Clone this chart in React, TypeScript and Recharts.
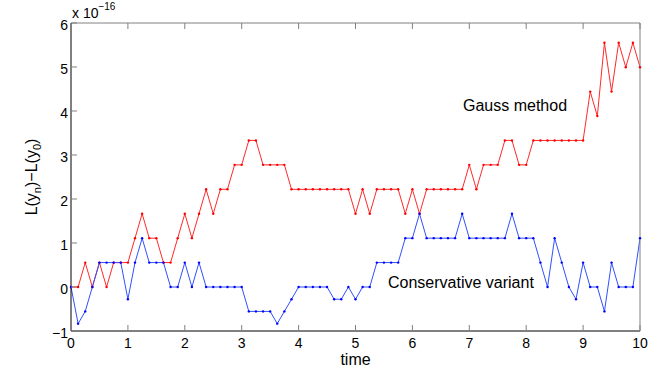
import React from "react";
import { CartesianGrid, Customized, Line, LineChart, XAxis, YAxis } from "recharts";

// time steps h = 1/8
const time = [
  0, 0.125, 0.25, 0.375, 0.5, 0.625, 0.75, 0.875,
  1, 1.125, 1.25, 1.375, 1.5, 1.625, 1.75, 1.875,
  2, 2.125, 2.25, 2.375, 2.5, 2.625, 2.75, 2.875,
  3, 3.125, 3.25, 3.375, 3.5, 3.625, 3.75, 3.875,
  4, 4.125, 4.25, 4.375, 4.5, 4.625, 4.75, 4.875,
  5, 5.125, 5.25, 5.375, 5.5, 5.625, 5.75, 5.875,
  6, 6.125, 6.25, 6.375, 6.5, 6.625, 6.75, 6.875,
  7, 7.125, 7.25, 7.375, 7.5, 7.625, 7.75, 7.875,
  8, 8.125, 8.25, 8.375, 8.5, 8.625, 8.75, 8.875,
  9, 9.125, 9.25, 9.375, 9.5, 9.625, 9.75, 9.875,
  10,
];

// L(y_n) - L(y_0), in units of 1e-16
const gauss = [
  0, 0, 0.555, 0, 0.555, 0, 0.555, 0.555,
  0.555, 1.11, 1.665, 1.11, 1.11, 0.555, 0.555, 1.11,
  1.665, 1.11, 1.665, 2.22, 1.665, 2.22, 2.22, 2.776,
  2.776, 3.331, 3.331, 2.776, 2.776, 2.776, 2.776, 2.22,
  2.22, 2.22, 2.22, 2.22, 2.22, 2.22, 2.22, 2.22,
  1.665, 2.22, 1.665, 2.22, 2.22, 2.22, 2.22, 1.665,
  2.22, 1.665, 2.22, 2.22, 2.22, 2.22, 2.22, 2.22,
  2.776, 2.22, 2.776, 2.776, 2.776, 3.331, 3.331, 2.776,
  2.776, 3.331, 3.331, 3.331, 3.331, 3.331, 3.331, 3.331,
  3.331, 4.441, 3.886, 5.551, 4.441, 5.551, 4.996, 5.551,
  4.996,
];

const conservative = [
  0, -0.833, -0.555, 0, 0.555, 0.555, 0.555, 0.555,
  -0.278, 0.555, 1.11, 0.555, 0.555, 0.555, 0, 0,
  0.555, 0, 0.555, 0, 0, 0, 0, 0,
  0, -0.555, -0.555, -0.555, -0.555, -0.833, -0.555, -0.278,
  0, 0, 0, 0, 0, -0.278, -0.278, 0,
  -0.278, 0, 0, 0.555, 0.555, 0.555, 0.555, 1.11,
  1.11, 1.665, 1.11, 1.11, 1.11, 1.11, 1.11, 1.665,
  1.11, 1.11, 1.11, 1.11, 1.11, 1.11, 1.665, 1.11,
  1.11, 1.11, 0.555, 0, 1.11, 0.555, 0, -0.278,
  0.555, 0, 0, -0.555, 0.555, 0, 0, 0,
  1.11,
];

const xTicks = [0, 1, 2, 3, 4, 5, 6, 7, 8, 9, 10];
const yTicks = [-1, 0, 1, 2, 3, 4, 5, 6];

const data = time.map((t, i) => ({ time: t, gauss: gauss[i], conservative: conservative[i] }));

const FONT = "'Liberation Sans', Arial, Helvetica, sans-serif";
const LEFT = 71;
const RIGHT = 640;
const TOP = 23;
const BOTTOM = 331;
const TICK = 6;
const TICK_COLOR = "#808080";

const fmt = (v: number) => (v < 0 ? "\u2212" + Math.abs(v) : String(v));

function LeftTick(props: any) {
  const y = props.payload.coordinate;
  return (
    <g>
      <line x1={LEFT} x2={LEFT + TICK} y1={y} y2={y} stroke={TICK_COLOR} />
      <text x={LEFT - 3} y={y + 7} textAnchor="end" fontSize={14} fontFamily={FONT} fill="#000">
        {fmt(props.payload.value)}
      </text>
    </g>
  );
}

function BottomTick(props: any) {
  const x = props.payload.coordinate;
  return (
    <g>
      <line x1={x} x2={x} y1={BOTTOM} y2={BOTTOM - TICK} stroke={TICK_COLOR} />
      <text x={x} y={348} textAnchor="middle" fontSize={14} fontFamily={FONT} fill="#000">
        {props.payload.value}
      </text>
    </g>
  );
}

function RightTick(props: any) {
  const y = props.payload.coordinate;
  return <line x1={RIGHT} x2={RIGHT - TICK} y1={y} y2={y} stroke={TICK_COLOR} />;
}

function TopTick(props: any) {
  const x = props.payload.coordinate;
  return <line x1={x} x2={x} y1={TOP} y2={TOP + TICK} stroke={TICK_COLOR} />;
}

function Labels() {
  return (
    <g fontFamily={FONT} fill="#000">
      <text x={72} y={18} fontSize={14}>
        x 10
        <tspan fontSize={10} dy={-8}>
          {"\u221216"}
        </tspan>
      </text>
      <text x={(LEFT + RIGHT) / 2} y={365} textAnchor="middle" fontSize={16}>
        time
      </text>
      <text
        x={37}
        y={(TOP + BOTTOM) / 2}
        textAnchor="middle"
        fontSize={16}
        transform={`rotate(-90, 37, ${(TOP + BOTTOM) / 2})`}
      >
        L(y
        <tspan fontSize={11} dy={4}>
          n
        </tspan>
        <tspan dy={-4}>{")\u2212L(y"}</tspan>
        <tspan fontSize={11} dy={4}>
          0
        </tspan>
        <tspan dy={-4}>)</tspan>
      </text>
      <text x={463} y={111} fontSize={16}>
        Gauss method
      </text>
      <text x={388} y={288} fontSize={16}>
        Conservative variant
      </text>
    </g>
  );
}

export default function App() {
  return (
    <div style={{ position: "absolute", left: 0, top: 0, width: 654, height: 382, background: "#fff" }}>
      <LineChart width={654} height={382} data={data} margin={{ top: 22, right: 13, bottom: 21, left: 31 }}>
        <CartesianGrid horizontal={false} vertical={false} />
        <XAxis
          dataKey="time"
          type="number"
          domain={[0, 10]}
          ticks={xTicks}
          height={30}
          axisLine={{ stroke: "#000" }}
          tickLine={false}
          tick={<BottomTick />}
          interval={0}
        />
        <XAxis
          xAxisId="top"
          orientation="top"
          dataKey="time"
          type="number"
          domain={[0, 10]}
          ticks={xTicks}
          height={1}
          axisLine={{ stroke: TICK_COLOR }}
          tickLine={false}
          tick={<TopTick />}
          interval={0}
        />
        <YAxis
          type="number"
          domain={[-1, 6]}
          ticks={yTicks}
          width={40}
          axisLine={{ stroke: "#000" }}
          tickLine={false}
          tick={<LeftTick />}
          interval={0}
        />
        <YAxis
          yAxisId="right"
          orientation="right"
          type="number"
          domain={[-1, 6]}
          ticks={yTicks}
          width={1}
          axisLine={{ stroke: TICK_COLOR }}
          tickLine={false}
          tick={<RightTick />}
          interval={0}
        />
        <Line
          dataKey="gauss"
          stroke="#ff2a2a"
          strokeWidth={1}
          dot={{ r: 1.2, fill: "#ff0000", stroke: "none" }}
          activeDot={false}
          isAnimationActive={false}
        />
        <Line
          dataKey="conservative"
          stroke="#3050ff"
          strokeWidth={1}
          dot={{ r: 1.2, fill: "#0000ff", stroke: "none" }}
          activeDot={false}
          isAnimationActive={false}
        />
        <Customized component={Labels} />
      </LineChart>
    </div>
  );
}
